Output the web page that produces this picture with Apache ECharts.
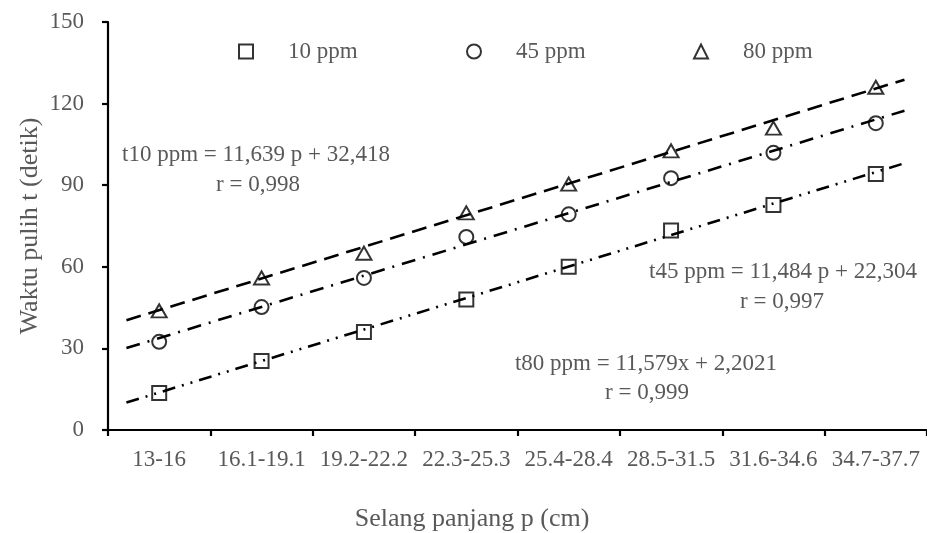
<!DOCTYPE html>
<html>
<head>
<meta charset="utf-8">
<script src="https://cdn.jsdelivr.net/npm/echarts@6/dist/echarts.min.js"></script>
<style>
  html, body { margin: 0; padding: 0; background: #fff; }
  #chart { width: 927px; height: 533px; }
</style>
</head>
<body>
<div id="chart"></div>
<script>
// Length classes (cm)
const categories = ['13-16', '16.1-19.1', '19.2-22.2', '22.3-25.3', '25.4-28.4', '28.5-31.5', '31.6-34.6', '34.7-37.7'];

// Recovery time t (s) per concentration
const ppm10 = [13.6, 25.4, 36.0, 48.0, 60.0, 73.3, 82.7, 94.1];
const ppm45 = [32.4, 45.2, 55.9, 71.0, 79.3, 92.6, 101.9, 112.8];
const ppm80 = [43.8, 55.9, 65.0, 79.8, 90.4, 102.6, 111.0, 126.0];

// Regression lines t = slope * p + intercept (p = class index 1..8)
const fitSlope = [11.579, 11.484, 11.639];
const fitIntercept = [2.2021, 22.304, 32.418];
const fitRange = [0.68, 8.28];

// Y axis ticks
const yTicks = [0, 30, 60, 90, 120, 150];

// Annotations
const eqLabels = [
  ['t10 ppm = 11,639 p + 32,418', 'r = 0,998'],
  ['t45 ppm = 11,484 p + 22,304', 'r = 0,997'],
  ['t80 ppm = 11,579x + 2,2021', 'r = 0,999']
];

const FONT = 'Liberation Serif';
const GREY = '#595959';

function fitLine(i) {
  return fitRange.map(p => [p, fitSlope[i] * p + fitIntercept[i]]);
}

const markerStyle = { color: 'rgba(0,0,0,0)', borderColor: '#000', borderWidth: 2 };

const chart = echarts.init(document.getElementById('chart'), null, { renderer: 'canvas' });

const legendBase = {
  orient: 'horizontal', padding: 0, itemWidth: 14, itemHeight: 14, top: 40,
  selectedMode: false,
  textStyle: { fontFamily: FONT, fontSize: 23, color: GREY, padding: [0, 0, 0, 30] }
};

function note(x, y, text, size, extra) {
  return Object.assign({
    type: 'text', x: x, y: y,
    style: { text: text, font: size + 'px "' + FONT + '"', fill: GREY, textAlign: 'center', textVerticalAlign: 'middle' }
  }, extra || {});
}

chart.setOption({
  animation: false,
  backgroundColor: '#fff',
  grid: { left: 108, right: 0, top: 22, bottom: 103, containLabel: false },
  legend: [
    Object.assign({}, legendBase, { left: 238, data: ['10 ppm'] }),
    Object.assign({}, legendBase, { left: 466, data: ['45 ppm'] }),
    Object.assign({}, legendBase, { left: 693, data: ['80 ppm'] })
  ],
  xAxis: [
    {
      type: 'category', data: categories, boundaryGap: true,
      axisLine: { lineStyle: { color: '#000', width: 2.2 } },
      axisTick: { show: true, length: 6, lineStyle: { color: '#000', width: 2.2 } },
      axisLabel: { fontFamily: FONT, fontSize: 23, color: GREY, margin: 18, interval: 0 },
      splitLine: { show: false }
    },
    {
      type: 'value', min: 0.5, max: 8.5, show: false
    }
  ],
  yAxis: {
    type: 'value', min: yTicks[0], max: yTicks[yTicks.length - 1], interval: yTicks[1] - yTicks[0],
    axisLine: { show: true, lineStyle: { color: '#000', width: 2.2 } },
    axisTick: { show: true, length: 6, lineStyle: { color: '#000', width: 2.2 } },
    axisLabel: { fontFamily: FONT, fontSize: 23, color: GREY, margin: 24 },
    splitLine: { show: false }
  },
  series: [
    {
      name: 'fit10', type: 'line', xAxisIndex: 1, data: fitLine(0), symbol: 'none', silent: true,
      lineStyle: { color: '#000', width: 2.6, type: [13, 7, 2, 7, 2, 7] }, z: 3
    },
    {
      name: 'fit45', type: 'line', xAxisIndex: 1, data: fitLine(1), symbol: 'none', silent: true,
      lineStyle: { color: '#000', width: 2.6, type: [14, 8, 2, 8] }, z: 3
    },
    {
      name: 'fit80', type: 'line', xAxisIndex: 1, data: fitLine(2), symbol: 'none', silent: true,
      lineStyle: { color: '#000', width: 2.6, type: [15, 8] }, z: 3
    },
    {
      name: '10 ppm', type: 'scatter', xAxisIndex: 0, data: ppm10,
      symbol: 'rect', symbolSize: 14, itemStyle: markerStyle, z: 4
    },
    {
      name: '45 ppm', type: 'scatter', xAxisIndex: 0, data: ppm45,
      symbol: 'circle', symbolSize: 14, itemStyle: markerStyle, z: 4
    },
    {
      name: '80 ppm', type: 'scatter', xAxisIndex: 0, data: ppm80,
      symbol: 'triangle', symbolSize: [15, 13], itemStyle: markerStyle, z: 4
    }
  ],
  graphic: [
    note(256, 155, eqLabels[0][0], 23),
    note(258, 185, eqLabels[0][1], 23),
    note(783, 272, eqLabels[1][0], 23),
    note(782, 302, eqLabels[1][1], 23),
    note(646, 364, eqLabels[2][0], 23),
    note(647, 393, eqLabels[2][1], 23),
    note(472, 519, 'Selang panjang p (cm)', 26),
    note(30, 226, 'Waktu pulih t (detik)', 26, { rotation: Math.PI / 2 })
  ]
});
</script>
</body>
</html>
